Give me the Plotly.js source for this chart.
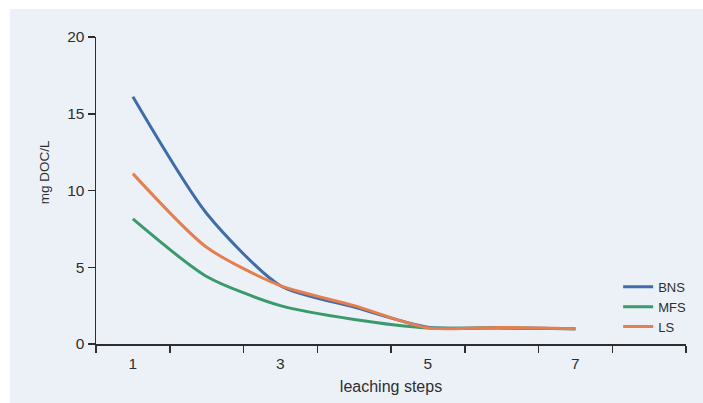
<!DOCTYPE html>
<html>
<head>
<meta charset="utf-8">
<script src="https://cdn.plot.ly/plotly-3.0.1.min.js"></script>
<style>
  html, body { margin: 0; padding: 0; background: #ffffff; }
  #chart { position: absolute; left: 10px; top: 9px; width: 693px; height: 394px; }
</style>
</head>
<body>
<div id="chart"></div>
<script>
// Leaching steps and dissolved organic carbon (mg DOC/L) per soil
const steps = [1, 2, 3, 4, 5, 6, 7];
const bns = [16.1, 8.5, 3.8, 2.4, 1.1, 1.05, 1.0];
const mfs = [8.15, 4.4, 2.5, 1.6, 1.05, 1.05, 1.0];
const ls  = [11.1, 6.3, 3.8, 2.5, 1.05, 1.08, 1.0];
const seriesNames = ['BNS', 'MFS', 'LS'];
const seriesColors = ['#3f6dab', '#3a9a6c', '#e57f4f'];
const xTickVals = [1, 3, 5, 7];
const yTickVals = [0, 5, 10, 15, 20];

const ink = '#2e2e2e';
const font = 'Liberation Sans, Arial, Helvetica, sans-serif';

const traces = [bns, mfs, ls].map((vals, i) => ({
  x: steps,
  y: vals,
  type: 'scatter',
  mode: 'lines',
  name: seriesNames[i],
  line: { color: seriesColors[i], width: 3, shape: 'spline', smoothing: 0.7 }
}));

const layout = {
  width: 693,
  height: 394,
  margin: { l: 86, r: 17, t: 28, b: 59 },
  paper_bgcolor: '#ecf1f8',
  plot_bgcolor: 'rgba(0,0,0,0)',
  font: { family: font, size: 15.5, color: ink },
  showlegend: true,
  legend: {
    x: 0.885, xanchor: 'left',
    y: 0.235, yanchor: 'top',
    bgcolor: 'rgba(0,0,0,0)',
    font: { family: font, size: 13, color: ink },
    itemwidth: 30
  },
  xaxis: {
    range: [0.5, 8.5],
    tickvals: xTickVals,
    ticktext: xTickVals.map(String),
    ticks: 'outside',
    ticklen: 5,
    tickcolor: 'rgba(0,0,0,0)',
    minor: { tick0: 0.5, dtick: 1, ticks: 'outside', ticklen: 7, tickwidth: 1.5, tickcolor: ink, showgrid: false },
    showline: true,
    linecolor: ink,
    linewidth: 1.5,
    showgrid: false,
    zeroline: false,
    title: { text: 'leaching steps', font: { family: font, size: 16, color: ink }, standoff: 9 }
  },
  yaxis: {
    range: [0, 20],
    tickvals: yTickVals,
    ticks: 'outside',
    ticklen: 7,
    tickwidth: 1.5,
    tickcolor: ink,
    showline: true,
    linecolor: ink,
    linewidth: 1.5,
    showgrid: false,
    zeroline: false
  },
  annotations: [{
    text: 'mg DOC/L',
    textangle: -90,
    xref: 'paper', yref: 'paper',
    x: -0.087, y: 0.558,
    xanchor: 'center', yanchor: 'middle',
    showarrow: false,
    font: { family: font, size: 13.5, color: ink }
  }]
};

Plotly.newPlot('chart', traces, layout, { displayModeBar: false, staticPlot: true });
</script>
</body>
</html>
